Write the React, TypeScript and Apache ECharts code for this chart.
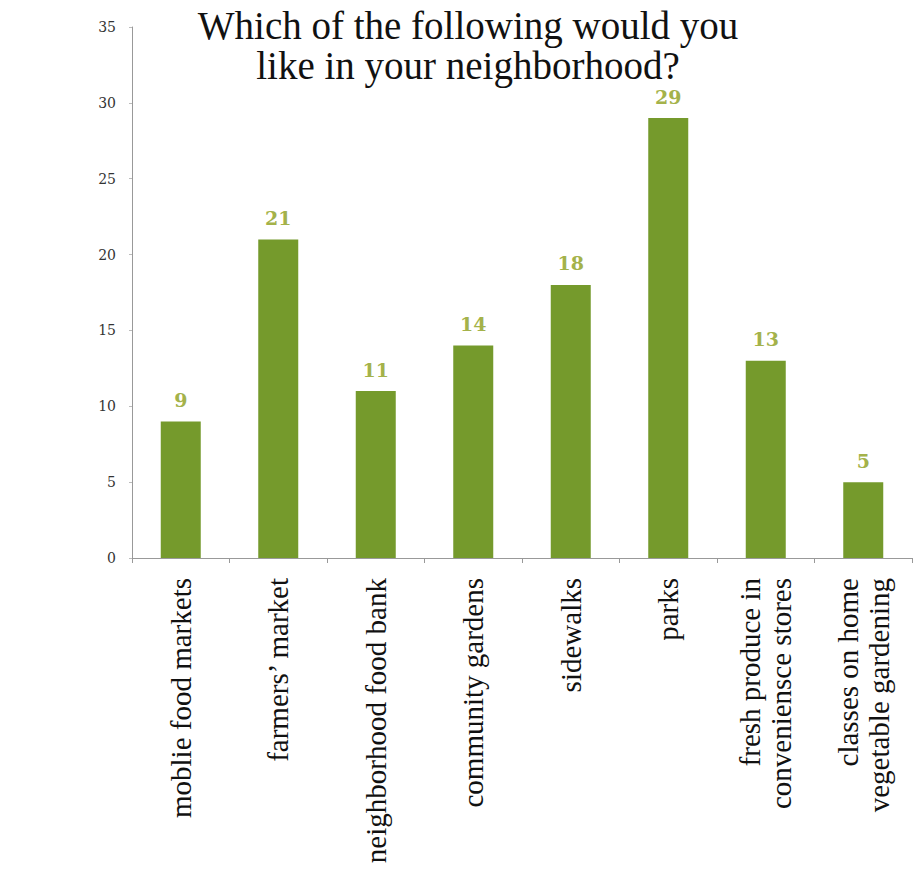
import React, { useEffect, useRef } from "react";
import * as echarts from "echarts";

const categories = [
  "moblie food markets",
  "farmers’ market",
  "neighborhood food bank",
  "community gardens",
  "sidewalks",
  "parks",
  "fresh produce in\nconveniensce stores",
  "classes on home\nvegetable gardening",
];
const values = [9, 21, 11, 14, 18, 29, 13, 5];
const titleLines = ["Which of the following would you", "like in your neighborhood?"];

export default function App() {
  const ref = useRef<HTMLDivElement>(null);
  useEffect(() => {
    if (!ref.current) return;
    const chart = echarts.init(ref.current, undefined, { renderer: "svg" });
    const titleStyle = {
      fontFamily: "Liberation Serif",
      fontWeight: "normal",
      fontSize: 39,
      lineHeight: 40,
      color: "#111",
    };
    chart.setOption({
      animation: false,
      backgroundColor: "#ffffff",
      title: titleLines.map((t, i) => ({
        text: t,
        left: 468,
        textAlign: "center",
        top: 5 + i * 40,
        padding: 0,
        textStyle: titleStyle,
      })),
      grid: { left: 132, right: 5, top: 27, bottom: 314 },
      xAxis: {
        type: "category",
        data: categories,
        axisLine: { lineStyle: { color: "#999", width: 1 } },
        axisTick: { show: true, alignWithLabel: false, length: 5, lineStyle: { color: "#999" } },
        axisLabel: {
          rotate: 90,
          interval: 0,
          margin: 20,
          fontFamily: "Liberation Serif",
          fontSize: 29,
          lineHeight: 31,
          color: "#111",
        },
      },
      yAxis: {
        type: "value",
        min: 0,
        max: 35,
        interval: 5,
        axisLine: { show: true, lineStyle: { color: "#999", width: 1 } },
        axisTick: { show: true, length: 3, lineStyle: { color: "#bbb" } },
        splitLine: { show: false },
        axisLabel: {
          margin: 16,
          fontFamily: "DejaVu Serif",
          fontSize: 14,
          color: "#333",
        },
      },
      series: [
        {
          type: "bar",
          data: values,
          barWidth: 40,
          itemStyle: { color: "#759a2c" },
          label: {
            show: true,
            position: "top",
            distance: 12,
            fontFamily: "DejaVu Serif",
            fontWeight: "bold",
            fontSize: 19,
            color: "#a4b24a",
          },
        },
      ],
    });
    return () => chart.dispose();
  }, []);
  return (
    <div
      ref={ref}
      style={{ position: "absolute", left: 0, top: 0, width: 917, height: 872 }}
    />
  );
}
